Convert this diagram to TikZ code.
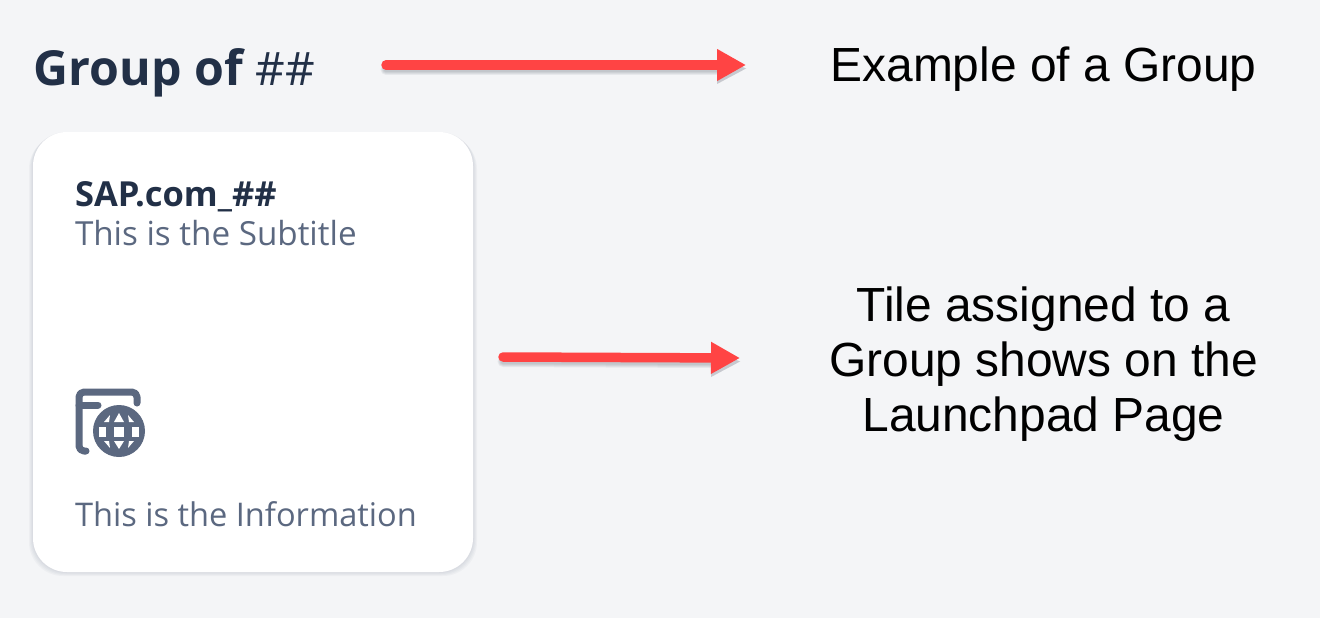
\documentclass[tikz,border=0pt]{standalone}
\usepackage{fontspec}
\setmainfont{Liberation Sans}
\newfontfamily\cardfont{Open Sans}
\usetikzlibrary{arrows.meta}
\definecolor{pagebg}{HTML}{F4F5F7}
\definecolor{ink}{HTML}{223047}
\definecolor{muted}{HTML}{5B6880}
\definecolor{arrowred}{HTML}{FF4444}
\definecolor{shadowgrey}{HTML}{4A5060}
\definecolor{cardshadow}{HTML}{5B6880}
\tikzset{
  x=1pt,y=-1pt,
  txt/.style={inner sep=0pt,outer sep=0pt,anchor=base west},
  heading/.style={txt,font=\cardfont\fontsize{48.3}{48}\selectfont\bfseries,text=ink},
  tiletitle/.style={txt,font=\cardfont\fontsize{34.5}{35}\selectfont\bfseries,text=ink},
  tilesub/.style={txt,font=\cardfont\fontsize{33.2}{34}\selectfont,text=muted},
  tileinfo/.style={txt,font=\cardfont\fontsize{32.6}{34}\selectfont,text=muted},
  note/.style={inner sep=0pt,align=center,text=black,font=\fontsize{47.9}{55}\selectfont},
  redarrow/.style={draw=arrowred,line width=9.5pt,line cap=round,-{Triangle[length=29pt,width=30pt,fill=arrowred,color=arrowred]}},
  arrowshadow/.style={draw=shadowgrey,line cap=round,draw opacity=.08},
  iconline/.style={draw=muted,line width=7pt,line cap=round,line join=round},
  iconhole/.style={fill=white},
}
\newcommand{\redconnector}[2]{%
  \foreach \w in {11,9,7,5}{
    \draw[arrowshadow,line width=\w pt] ([shift={(0,4.5)}]#1) -- ([shift={(-30,4.5)}]#2);
    \fill[shadowgrey,opacity=.07] ([shift={(-29,-9)}]#2) -- ([shift={(0,3.5)}]#2) -- ([shift={(-29,19)}]#2) -- cycle;
  }
  \draw[redarrow] (#1) -- (#2);
}
\begin{document}
\begin{tikzpicture}
\useasboundingbox (0,0) rectangle (1320,618);
\fill[pagebg] (0,0) rectangle (1320,618);
% card with soft shadow
\foreach \g/\d in {1/1,2/2,3/3,4/4}{
  \fill[cardshadow,opacity=.045,rounded corners=34pt] (33-\g,132-1+\d) rectangle (473+\g,572+\d);
}
\fill[white,rounded corners=34pt] (33,132) rectangle (473,572);
\node[heading] (head) at (34,85) {Group of {\fontsize{46}{46}\selectfont\mdseries\#\#}};
\node[tiletitle] (title) at (75,206) {SAP.com\_\#\#};
\node[tilesub] (sub) at (75,245) {This is the Subtitle};
\node[tileinfo] (info) at (75,526) {This is the Information};
\node[note] (ex) at (1043.5,69) {Example of a Group};
\node[note] (tile) at (1043.5,364) {Tile assigned to a\\Group shows on the\\Launchpad Page};
\coordinate (a1s) at (386,65);
\coordinate (a1e) at (746,65);
\coordinate (a2s) at (503,357);
\coordinate (a2e) at (740,358);
\redconnector{a1s}{a1e}
\redconnector{a2s}{a2e}
% icon: window with globe
\draw[iconline,rounded corners=5pt] (137,403) -- (137,392) -- (79,392) -- (79,451) -- (86,451);
\draw[iconline] (79,405) -- (98,405);
\fill[white] (119,431) circle[radius=29];
\fill[muted] (119,431) circle[radius=26];
% globe cells
\fill[iconhole] (99,427) rectangle (106,437);
\fill[iconhole] (114,427) rectangle (124,437);
\fill[iconhole] (132,427) rectangle (139,437);
\fill[iconhole] (119,413) -- (124,422) -- (114,422) -- cycle;
\fill[iconhole] (119,449) -- (124,441) -- (114,441) -- cycle;
\fill[iconhole] (110,415) -- (104,422) -- (109,422) -- cycle;
\fill[iconhole] (128,415) -- (134,422) -- (129,422) -- cycle;
\fill[iconhole] (110,448) -- (104,441) -- (109,441) -- cycle;
\fill[iconhole] (128,448) -- (134,441) -- (129,441) -- cycle;
\end{tikzpicture}
\end{document}
